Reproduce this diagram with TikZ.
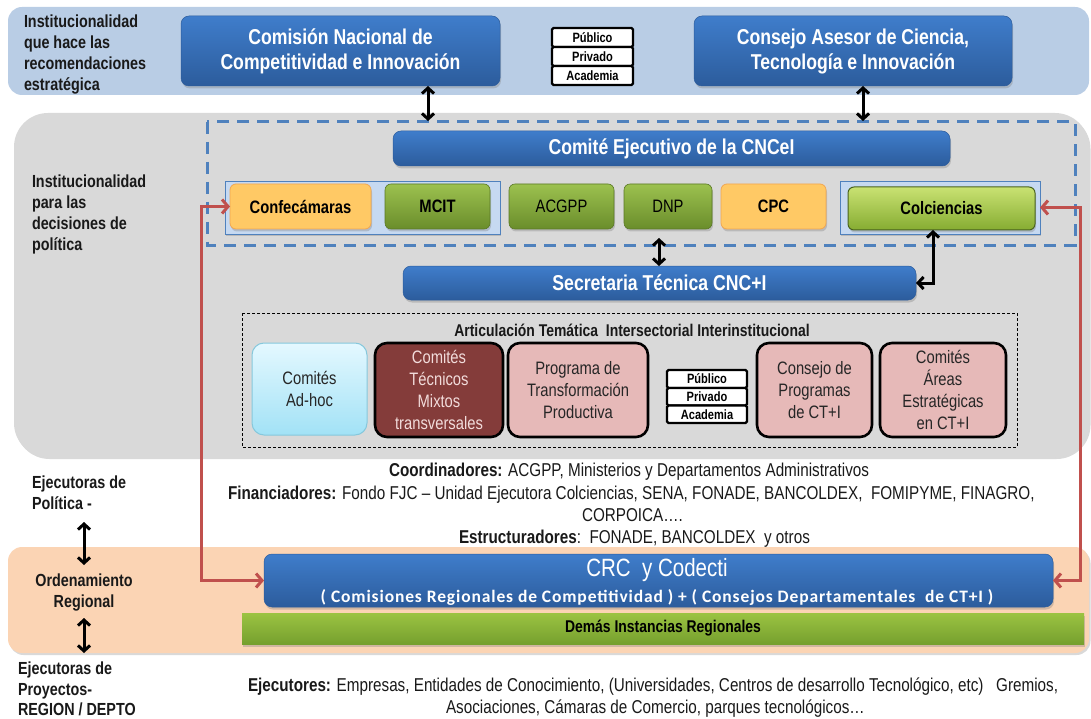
\documentclass[tikz,border=0pt]{standalone}
\usepackage{fontspec}
\setmainfont{Liberation Sans}[FakeStretch=0.82]
\newfontfamily\calib{Carlito}[LetterSpace=5]
\usetikzlibrary{arrows.meta,shadows}
\definecolor{bandblue}{HTML}{B9CDE5}
\definecolor{bandgray}{HTML}{D9D9D9}
\definecolor{bandorange}{HTML}{FBD4B4}
\definecolor{bluetop}{HTML}{3F7DCB}
\definecolor{bluebot}{HTML}{2C5C9C}
\definecolor{greentop}{HTML}{9CC14F}
\definecolor{greenbot}{HTML}{6A8D2B}
\definecolor{lgreentop}{HTML}{C9E272}
\definecolor{lgreenbot}{HTML}{86AC32}
\definecolor{orangefill}{HTML}{FFC965}
\definecolor{orangeline}{HTML}{F2A650}
\definecolor{contfill}{HTML}{C6D9F1}
\definecolor{contline}{HTML}{4F81BD}
\definecolor{dashblue}{HTML}{4F81BD}
\definecolor{pinkfill}{HTML}{E6B9B8}
\definecolor{darkred}{HTML}{843C3A}
\definecolor{lightpink}{HTML}{F2DCDB}
\definecolor{cyantop}{HTML}{E4F8FF}
\definecolor{cyanbot}{HTML}{A2E2F6}
\definecolor{cyanline}{HTML}{86C8DC}
\definecolor{redline}{HTML}{C0504D}
\definecolor{bargreentop}{HTML}{9BC342}
\definecolor{bargreenbot}{HTML}{76A02E}
\newcommand\mybox[7]{\node[#6, minimum width={#4pt-#2pt}, minimum height={#5pt-#3pt}] (#1) at ({(#2+#4)/2},{(#3+#5)/2}) {#7};}
\begin{document}
\begin{tikzpicture}[x=1pt,y=-1pt,
  every node/.style={inner sep=0pt, outer sep=0pt},
  shad/.style={drop shadow={shadow xshift=1pt, shadow yshift=-2.5pt, opacity=0.35}},
  bluebox/.style={shad, rounded corners=8pt, top color=bluetop, bottom color=bluebot, draw=bluebot, line width=0.5pt, text=white, font=\bfseries\fontsize{21.5}{25}\selectfont, align=center},
  greenbox/.style={shad, rounded corners=6pt, top color=greentop, bottom color=greenbot, draw=greenbot!85!black, line width=0.6pt, font=\fontsize{18}{22}\selectfont},
  lgreenbox/.style={shad, rounded corners=6pt, top color=lgreentop, bottom color=lgreenbot, draw=greenbot!70!black, line width=1pt, font=\bfseries\fontsize{18}{22}\selectfont},
  orangebox/.style={shad, rounded corners=6pt, fill=orangefill, draw=orangeline, line width=0.8pt, font=\bfseries\fontsize{18}{22}\selectfont},
  contbox/.style={shad, fill=contfill, draw=contline, line width=0.8pt},
  pinkbox/.style={rounded corners=12pt, fill=pinkfill, draw=black, line width=2.6pt, font=\fontsize{18}{22}\selectfont, align=center, text=black!85},
  redbox/.style={rounded corners=12pt, fill=darkred, draw=black, line width=2.6pt, font=\fontsize{18}{22}\selectfont, align=center, text=lightpink},
  cyanbox/.style={rounded corners=12pt, top color=cyantop, bottom color=cyanbot, draw=cyanline, line width=1pt, font=\fontsize{18}{22}\selectfont, align=center, text=black!85},
  stk/.style={fill=white, draw=black, line width=2.4pt, rounded corners=1.5pt, font=\bfseries\fontsize{13.5}{14}\selectfont},
  lab/.style={font=\bfseries\fontsize{17.5}{21}\selectfont, align=left, text=black!90},
  txt/.style={font=\fontsize{18.6}{22}\selectfont, text=black!90},
  blk/.style={line width=3pt, {Straight Barb[length=5.5pt,width=12pt]}-{Straight Barb[length=5.5pt,width=12pt]}},
  redarr/.style={draw=redline, line width=3pt, {Straight Barb[length=6pt,width=14pt]}-{Straight Barb[length=6pt,width=14pt]}},
]
\useasboundingbox (0,0) rectangle (1091,719);
% bands
\fill[bandblue, rounded corners=14pt] (8,7) rectangle (1089,95);
\fill[bandgray, rounded corners=34pt, drop shadow={shadow xshift=1.5pt, shadow yshift=-2pt, opacity=0.3}] (14,113) rectangle (1089,457);
\fill[bandorange, rounded corners=14pt, drop shadow={shadow xshift=1.5pt, shadow yshift=-2pt, opacity=0.3}] (8,547) rectangle (1089,653);

% top level
\mybox{cnci}{181}{16}{500}{86}{bluebox}{Comisión Nacional de\\Competitividad e Innovación}
\mybox{cacti}{694}{16}{1012}{86}{bluebox}{Consejo Asesor de Ciencia,\\Tecnología e Innovación}
\mybox{s1a}{552}{28}{633}{47}{stk}{Público}
\mybox{s1b}{552}{47}{633}{66}{stk}{Privado}
\mybox{s1c}{552}{66}{633}{85}{stk}{Academia}

% dashed area
\draw[dashblue, line width=3pt, dash pattern=on 12pt off 8pt] (207,122) rectangle (1075,245);
\coordinate (dtopL) at (428,121);
\coordinate (dtopR) at (863,121);
\draw[blk] (cnci.south -| dtopL) -- (dtopL);
\draw[blk] (cacti.south -| dtopR) -- (dtopR);

\mybox{cej}{393}{131}{950}{166}{bluebox}{Comité Ejecutivo de la CNCeI}
\mybox{cont1}{225}{181}{500}{234}{contbox}{}
\mybox{conf}{230}{184}{371}{229}{orangebox}{Confecámaras}
\mybox{mcit}{385}{184}{490}{229}{greenbox}{\bfseries MCIT}
\mybox{acgpp}{509}{184}{614}{229}{greenbox}{ACGPP}
\mybox{dnp}{624}{184}{712}{229}{greenbox}{DNP}
\mybox{cpc}{721}{184}{826}{229}{orangebox}{CPC}
\mybox{cont2}{840}{181}{1040}{234}{contbox}{}
\mybox{colc}{848}{187}{1035}{230}{lgreenbox}{Colciencias}

\mybox{secr}{403}{266}{916}{300}{bluebox}{Secretaria Técnica CNC+I}
\coordinate (dnpa) at (659,238);
\draw[blk] (dnpa) -- (secr.north -| dnpa);
\coordinate (colk) at (933,0);
\draw[blk] (colc.south -| colk) |- (secr.east);

% articulacion
\draw[black, line width=1pt, dash pattern=on 3pt off 2pt] (242,313) rectangle (1017,447);
\node[font=\bfseries\fontsize{17}{20}\selectfont, text=black!90] (arttit) at (632,330) {Articulación Temática\ \ Intersectorial Interinstitucional};
\mybox{adhoc}{252}{343}{367}{435}{cyanbox}{Comités\\Ad-hoc}
\mybox{ctm}{375}{343}{503}{437}{redbox}{Comités\\Técnicos\\Mixtos\\transversales}
\mybox{ptp}{508}{343}{648}{437}{pinkbox}{Programa de\\Transformación\\Productiva}
\mybox{s2a}{667}{370}{747}{388}{stk}{Público}
\mybox{s2b}{667}{388}{747}{405.5}{stk}{Privado}
\mybox{s2c}{667}{405.5}{747}{423}{stk}{Academia}
\mybox{cpct}{757}{343}{872}{437}{pinkbox}{Consejo de\\Programas\\de CT+I}
\mybox{caes}{880}{343}{1006}{437}{pinkbox}{Comités\\Áreas\\Estratégicas\\en CT+I}

% left labels
\node[lab, anchor=north west] (l1) at (24,15) {Institucionalidad\\que hace las\\recomendaciones\\estratégica};
\node[lab, anchor=north west] (l2) at (32,175) {Institucionalidad\\para las\\decisiones de\\política};
\node[lab, anchor=north west] (l3) at (32,476) {Ejecutoras de\\Política -};
\node[lab, anchor=north, align=center] (l4) at (84,574) {Ordenamiento\\Regional};
\node[lab, anchor=north west, font=\bfseries\fontsize{17.5}{20.5}\selectfont] (l5) at (18,662) {Ejecutoras de\\Proyectos-\\REGION / DEPTO};
\coordinate (la1) at (84,522); \coordinate (la2) at (84,565);
\coordinate (la3) at (84,618); \coordinate (la4) at (84,653);
\draw[blk] (la1) -- (la2);
\draw[blk] (la3) -- (la4);

% middle texts
\node[txt, anchor=base west] (coord) at (389,476) {\textbf{Coordinadores:} ACGPP, Ministerios y Departamentos Administrativos};
\node[txt, anchor=base west] (fin) at (228,499) {\textbf{Financiadores:} Fondo FJC – Unidad Ejecutora Colciencias, SENA, FONADE, BANCOLDEX,\ \ FOMIPYME, FINAGRO,};
\node[txt, anchor=base west] (corp) at (582,521) {CORPOICA….};
\node[txt, anchor=base west] (estr) at (459,543) {\textbf{Estructuradores}:\ \ FONADE, BANCOLDEX\ \ y otros};

% regional
\mybox{crc}{264}{554}{1053}{607}{bluebox}{}
\node[font=\fontsize{25}{27}\selectfont, text=white] (crct) at (657,570) {CRC\ \ y Codecti};
\node[font=\calib\bfseries\fontsize{17.5}{20}\selectfont, text=white] (crcs) at (657,597) {( Comisiones Regionales de Competitividad )\ + ( Consejos Departamentales\ \ de CT+I )};
\mybox{dem}{242}{613}{1084}{644}{greenbox, top color=bargreentop, bottom color=bargreenbot, rounded corners=0pt, draw=none}{\bfseries\fontsize{17}{20}\selectfont Demás Instancias Regionales}

\coordinate (redL) at (201,400);
\coordinate (redR) at (1080,400);
\draw[redarr] (conf.west) -| (redL) |- (crc.west);
\draw[redarr] (cont2.east) -| (redR) |- (crc.east);

\node[txt, anchor=base west] (ejec) at (248,691) {\textbf{Ejecutores:} Empresas, Entidades de Conocimiento, (Universidades, Centros de desarrollo Tecnológico, etc)\ \ \ Gremios,};
\node[txt, anchor=base west] (asoc) at (446,713) {Asociaciones, Cámaras de Comercio, parques tecnológicos…};
\end{tikzpicture}
\end{document}
